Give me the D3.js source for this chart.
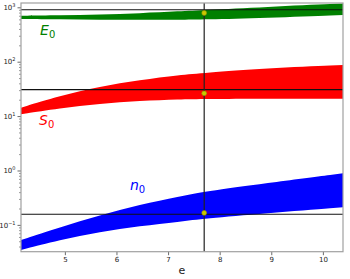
<!DOCTYPE html>
<html>
<head>
<meta charset="utf-8">
<script src="https://cdn.jsdelivr.net/npm/d3@7"></script>
<style>
  body { margin: 0; background: #fff; }
  svg { display: block; font-family: "DejaVu Sans", sans-serif; }
</style>
</head>
<body>
<svg id="chart" width="350" height="279"></svg>
<script>
// sample points along e
const eGrid = [4.15, 4.90, 5.68, 6.45, 7.23, 7.70, 8.88, 10.39];

// band edges (lower / upper) per quantity
const E0Low  = [610, 600, 592, 588, 588, 595, 635, 722];
const E0High = [701, 708, 731, 776, 847, 891, 1013, 1175];
const S0Low  = [10.8, 13.9, 17.0, 19.0, 20.3, 20.6, 20.9, 20.9];
const S0High = [14.3, 23.5, 35.0, 46, 56.9, 62, 75.7, 86.9];
const n0Low  = [0.0346, 0.0527, 0.074, 0.0955, 0.1146, 0.130, 0.163, 0.211];
const n0High = [0.0527, 0.090, 0.150, 0.235, 0.335, 0.410, 0.582, 0.889];

// reference values
const eRef = 7.7;
const refLevels = [903, 30.6, 0.157];
const markerValues = [785, 26.2, 0.166];

const xTicks = [5, 6, 7, 8, 9, 10];
const yExponents = [-1, 0, 1, 2, 3];

const bands = [
  {name: "E", low: E0Low, high: E0High, color: "#008000", lx: 4.52, ly: 310},
  {name: "S", low: S0Low, high: S0High, color: "#ff0000", lx: 4.50, ly: 6.86},
  {name: "n", low: n0Low, high: n0High, color: "#0000ff", lx: 6.26, ly: 0.438}
];

const svg = d3.select("#chart");
const pLeft = 21, pRight = 343, pTop = 3, pBottom = 251.7;

const x = d3.scaleLinear().domain([4.15, 10.39]).range([pLeft, pRight]);
const y = d3.scaleLog().domain([Math.pow(10, -1.493), Math.pow(10, 3.079)]).range([pBottom, pTop]);

svg.append("clipPath").attr("id", "plotclip")
  .append("rect").attr("x", pLeft).attr("y", pTop).attr("width", pRight - pLeft).attr("height", pBottom - pTop);

const plot = svg.append("g").attr("clip-path", "url(#plotclip)");

// bands
bands.forEach(b => {
  let rows = eGrid.map((e, i) => ({e: e, lo: b.low[i], hi: b.high[i]}));
  let area = d3.area()
    .x(d => x(d.e))
    .y0(d => y(d.lo))
    .y1(d => y(d.hi))
    .curve(d3.curveBasis);
  plot.append("path").datum(rows).attr("d", area).attr("fill", b.color);
});

// reference lines
refLevels.forEach(v => {
  plot.append("line")
    .attr("x1", pLeft).attr("x2", pRight)
    .attr("y1", y(v)).attr("y2", y(v))
    .attr("stroke", "#111").attr("stroke-width", 1.1);
});
plot.append("line")
  .attr("x1", x(eRef)).attr("x2", x(eRef))
  .attr("y1", pTop).attr("y2", pBottom)
  .attr("stroke", "#222").attr("stroke-width", 1.2);

// markers
plot.selectAll("circle.mk").data(markerValues).enter()
  .append("circle")
  .attr("class", "mk")
  .attr("cx", x(eRef))
  .attr("cy", d => y(d))
  .attr("r", 2.4)
  .attr("fill", "#c8c800")
  .attr("stroke", "#9a9a00")
  .attr("stroke-width", 0.6);

// band labels
bands.forEach(b => {
  let t = svg.append("text")
    .attr("x", x(b.lx)).attr("y", y(b.ly))
    .attr("fill", b.color)
    .attr("font-size", "14px")
    .attr("font-style", "italic");
  t.append("tspan").text(b.name);
  t.append("tspan").attr("font-size", "10px").attr("font-style", "normal").attr("dy", 3).text("0");
});

// x axis
let xAxis = svg.append("g")
  .attr("transform", `translate(0,${pBottom})`)
  .call(d3.axisBottom(x).tickValues(xTicks).tickSize(3.5).tickPadding(2).tickFormat(d3.format("d")));
xAxis.select(".domain").remove();
xAxis.selectAll(".tick line").attr("stroke", "#444").attr("stroke-width", 0.8);
xAxis.selectAll(".tick text").attr("font-size", "7px").attr("fill", "#222").attr("font-family", "DejaVu Sans");

// y axis minor ticks
let minors = [];
yExponents.concat([-2]).forEach(p => {
  for (let k = 2; k <= 9; k++) {
    let v = k * Math.pow(10, p);
    if (v > y.domain()[0] && v < y.domain()[1]) minors.push(v);
  }
});
let yMinor = svg.append("g")
  .attr("transform", `translate(${pLeft},0)`)
  .call(d3.axisLeft(y).tickValues(minors).tickSize(2).tickFormat(""));
yMinor.select(".domain").remove();
yMinor.selectAll(".tick line").attr("stroke", "#555").attr("stroke-width", 0.6);

// y axis major ticks
let yAxis = svg.append("g")
  .attr("transform", `translate(${pLeft},0)`)
  .call(d3.axisLeft(y).tickValues(yExponents.map(p => Math.pow(10, p))).tickSize(3.5).tickPadding(2).tickFormat(""));
yAxis.select(".domain").remove();
yAxis.selectAll(".tick line").attr("stroke", "#444").attr("stroke-width", 0.8);
yAxis.selectAll(".tick text")
  .attr("font-size", "7px").attr("fill", "#222").attr("font-family", "DejaVu Sans")
  .each(function(d) {
    let p = Math.round(Math.log10(d));
    let t = d3.select(this);
    t.append("tspan").text("10");
    t.append("tspan").attr("font-size", "5px").attr("dy", "-0.6em").text(p < 0 ? "\u2212" + (-p) : p);
  });

// spines
svg.append("rect")
  .attr("x", pLeft).attr("y", pTop)
  .attr("width", pRight - pLeft).attr("height", pBottom - pTop)
  .attr("fill", "none").attr("stroke", "#a0a0a0").attr("stroke-width", 1.2);

// x label
svg.append("text")
  .attr("x", (pLeft + pRight) / 2).attr("y", 274)
  .attr("text-anchor", "middle")
  .attr("font-size", "11px").attr("fill", "#222")
  .text("e");
</script>
</body>
</html>
